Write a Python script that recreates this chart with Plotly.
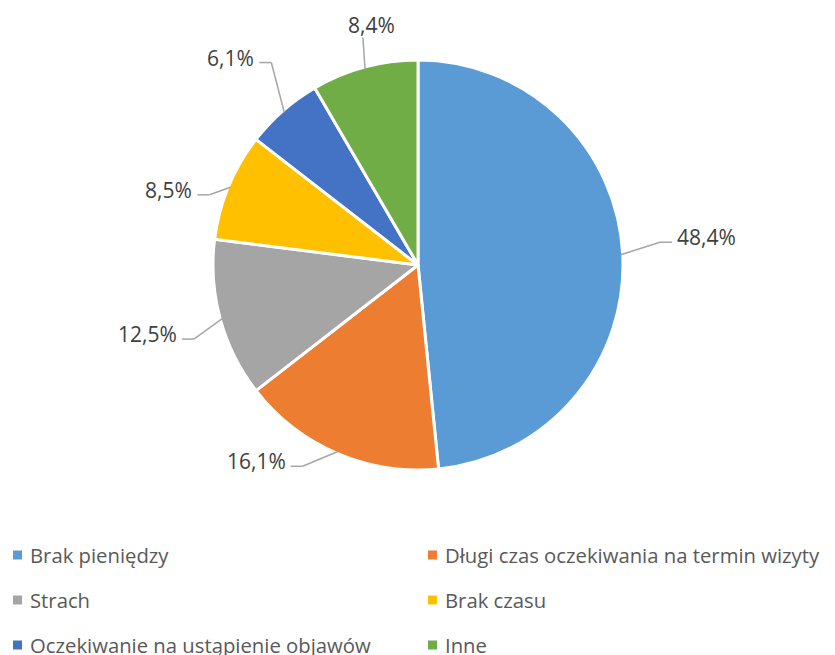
import math
import plotly.graph_objects as go

# Dane: powody niekorzystania z wizyty
categories = [
    "Brak pieniędzy",
    "Długi czas oczekiwania na termin wizyty",
    "Strach",
    "Brak czasu",
    "Oczekiwanie na ustąpienie objawów",
    "Inne",
]
values = [48.4, 16.1, 12.5, 8.5, 6.1, 8.4]
colors = ["#5B9BD5", "#ED7D31", "#A5A5A5", "#FFC000", "#4472C4", "#70AD47"]

# rozmieszczenie etykiet (jak w Excelu): przesunięcie kąta i długość linii
label_dangle = [-2.5, 6.6, -3.0, -3.9, 5.3, 1.5]
label_extra = [40, 29, 33, 17, 47, 31]

W, H = 835, 655
OFF = 8  # margines strony w przeglądarce
CX, CY, R = 418, 265, 203
FONT = "Open Sans"


def paper(x, y):
    # piksele ekranu -> współrzędne paper
    return (x - OFF) / W, 1 - (y - OFF) / H


dom_r = R + 2
fig = go.Figure(go.Pie(
    labels=categories,
    values=values,
    sort=False,
    direction="clockwise",
    rotation=0,
    marker=dict(colors=colors, line=dict(color="white", width=3)),
    textinfo="none",
    hoverinfo="label+percent",
    showlegend=False,
    domain=dict(x=[paper(CX - dom_r, 0)[0], paper(CX + dom_r, 0)[0]],
                y=[paper(0, CY + dom_r)[1], paper(0, CY - dom_r)[1]]),
))

# etykiety z liniami odniesienia
shapes, annotations = [], []
total = sum(values)
cum = 0
line_style = dict(color="#A6A6A6", width=1.5)
lab_font = dict(family=FONT, size=21, color="#404040")
for v, da, dr in zip(values, label_dangle, label_extra):
    mid = (cum + v / 2) / total * 2 * math.pi
    cum += v
    sx, sy = CX + R * math.sin(mid), CY - R * math.cos(mid)
    el = mid + math.radians(da)
    s, c = math.sin(el), math.cos(el)
    ex, ey = CX + (R + dr) * s, CY - (R + dr) * c
    p0, p1 = paper(sx, sy), paper(ex, ey)
    shapes.append(dict(type="line", xref="paper", yref="paper",
                       x0=p0[0], y0=p0[1], x1=p1[0], y1=p1[1], line=line_style))
    text = f"{v:.1f}%".replace(".", ",")
    if abs(s) < 0.3:
        ax, ay = paper(ex + 9, ey - 13)
        annotations.append(dict(x=ax, y=ay, xref="paper", yref="paper", text=text,
                                showarrow=False, xanchor="center", yanchor="middle",
                                font=lab_font))
    else:
        side = 1 if s > 0 else -1
        hx = ex + side * 12
        p2 = paper(hx, ey)
        shapes.append(dict(type="line", xref="paper", yref="paper",
                           x0=p1[0], y0=p1[1], x1=p2[0], y1=p2[1], line=line_style))
        ax, ay = paper(hx + side * 3, ey - 5)
        annotations.append(dict(x=ax, y=ay, xref="paper", yref="paper", text=text,
                                showarrow=False, yanchor="middle",
                                xanchor="left" if side > 0 else "right",
                                font=lab_font))

# legenda w dwóch kolumnach
for i, (name, col) in enumerate(zip(categories, colors)):
    cx = 13 + (i % 2) * 415
    cy = 555 + (i // 2) * 45
    x0, y0 = paper(cx, cy + 4.5)
    x1, y1 = paper(cx + 9, cy - 4.5)
    shapes.append(dict(type="rect", xref="paper", yref="paper", x0=x0, y0=y0,
                       x1=x1, y1=y1, fillcolor=col, line=dict(width=0)))
    tx, ty = paper(cx + 15, cy)
    annotations.append(dict(x=tx, y=ty, xref="paper", yref="paper", text=name,
                            showarrow=False, xanchor="left", yanchor="middle",
                            font=dict(family=FONT, size=20.3, color="#595959")))

fig.update_layout(
    width=W, height=H,
    margin=dict(l=0, r=0, t=0, b=0),
    paper_bgcolor="white",
    plot_bgcolor="white",
    shapes=shapes,
    annotations=annotations,
)

fig.write_html("out.html")
